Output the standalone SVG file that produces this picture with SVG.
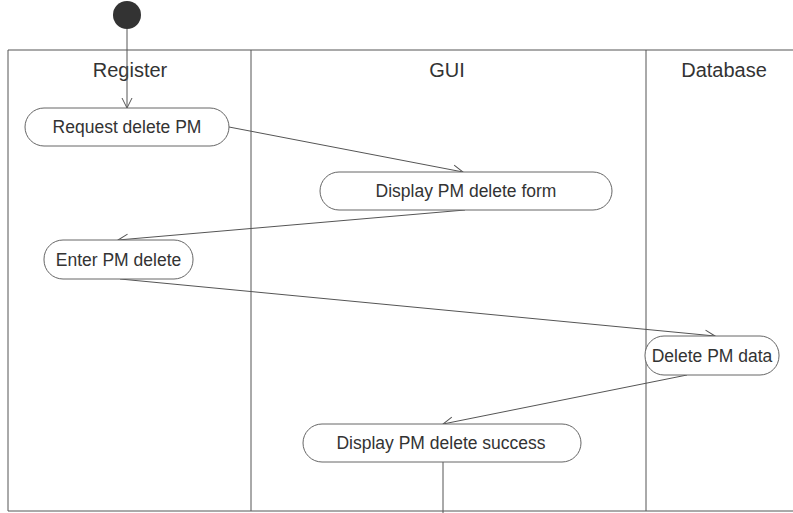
<svg xmlns="http://www.w3.org/2000/svg" width="793" height="513" viewBox="0 0 793 513">
<style>
.lane{fill:none;stroke:#555;stroke-width:1}
.node rect{fill:#fff;stroke:#666;stroke-width:1}
.node text{font-family:"Liberation Sans",Arial,sans-serif;font-size:17.5px;fill:#333;text-anchor:middle}
.hdr{font-family:"Liberation Sans",Arial,sans-serif;font-size:20px;fill:#333;text-anchor:middle}
.edge{fill:none;stroke:#555;stroke-width:1}
</style>
<defs>
<marker id="arr" viewBox="0 0 12 12" refX="11" refY="6" markerWidth="12" markerHeight="12" markerUnits="userSpaceOnUse" orient="auto">
<path d="M1,1 L11,6 L1,11" fill="none" stroke="#555" stroke-width="1"/>
</marker>
</defs>
<rect width="793" height="513" fill="#fff"/>
<g id="lanes">
<path class="lane" d="M8,50 H793 M8,50 V511 H793 M251,50 V511 M646,50 V511"/>
<text class="hdr" x="130" y="77">Register</text>
<text class="hdr" x="447" y="77">GUI</text>
<text class="hdr" x="724" y="77">Database</text>
</g>
<g id="start"><circle cx="127" cy="15" r="14" fill="#333"/></g>
<g id="connectors">
<path class="edge" d="M127,29 V108" marker-end="url(#arr)"/>
<path class="edge" d="M229,127 L463,172" marker-end="url(#arr)"/>
<path class="edge" d="M465,210 L118,240" marker-end="url(#arr)"/>
<path class="edge" d="M120,279 L715,336" marker-end="url(#arr)"/>
<path class="edge" d="M687,375 L443,424" marker-end="url(#arr)"/>
<path class="edge" d="M443,462 V513"/>
</g>
<g id="n1" class="node"><rect x="25" y="108" width="204" height="38" rx="19"/><text x="127" y="133">Request delete PM</text></g>
<g id="n2" class="node"><rect x="320" y="172" width="292" height="38" rx="19"/><text x="466" y="197">Display PM delete form</text></g>
<g id="n3" class="node"><rect x="44" y="240" width="149" height="39" rx="19"/><text x="118.5" y="265.5">Enter PM delete</text></g>
<g id="n4" class="node"><rect x="645" y="336" width="134" height="39" rx="19"/><text x="712" y="361.5">Delete PM data</text></g>
<g id="n5" class="node"><rect x="303" y="424" width="278" height="38" rx="19"/><text x="441" y="449">Display PM delete success</text></g>
</svg>
